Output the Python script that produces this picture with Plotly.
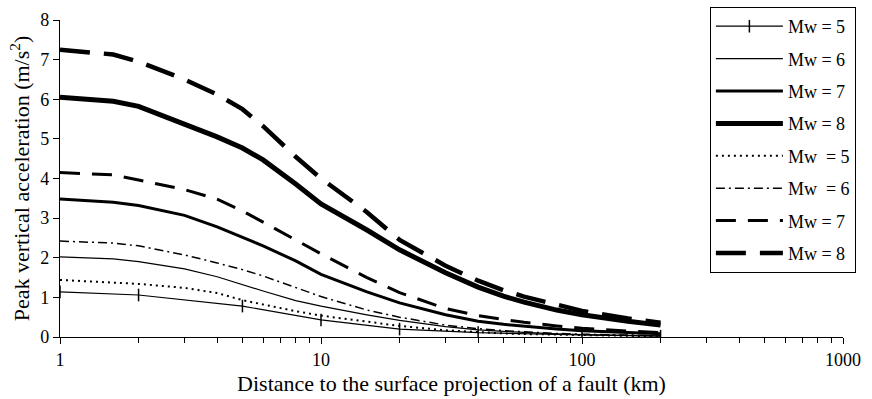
import plotly.graph_objects as go

# Distance to the surface projection of the fault (km)
distance = [1, 1.6, 2, 3, 4, 5, 6, 8, 10, 15, 20, 30, 40, 50, 60, 80, 100, 150, 200]
distance_mw5 = [1, 2, 5, 10, 20, 40, 100, 200]

# Peak vertical acceleration (m/s^2), first model (solid lines)
pva_a_mw5 = [1.14, 1.06, 0.78, 0.43, 0.20, 0.11, 0.05, 0.02]
pva_a_mw6 = [2.02, 1.97, 1.90, 1.72, 1.52, 1.32, 1.16, 0.92, 0.78, 0.56, 0.42, 0.26, 0.18, 0.14, 0.11, 0.08, 0.06, 0.04, 0.03]
pva_a_mw7 = [3.48, 3.40, 3.32, 3.07, 2.78, 2.52, 2.30, 1.92, 1.58, 1.14, 0.86, 0.56, 0.40, 0.32, 0.27, 0.20, 0.16, 0.11, 0.08]
pva_a_mw8 = [6.05, 5.95, 5.82, 5.38, 5.05, 4.77, 4.47, 3.86, 3.36, 2.70, 2.20, 1.62, 1.26, 1.03, 0.88, 0.68, 0.56, 0.40, 0.30]

# Peak vertical acceleration (m/s^2), second model (dotted / dashed lines)
pva_b_mw5 = [1.44, 1.36, 1.34, 1.24, 1.11, 0.93, 0.82, 0.65, 0.54, 0.38, 0.28, 0.17, 0.12, 0.09, 0.075, 0.055, 0.04, 0.03, 0.02]
pva_b_mw6 = [2.42, 2.37, 2.30, 2.07, 1.87, 1.70, 1.54, 1.24, 1.02, 0.68, 0.50, 0.30, 0.21, 0.16, 0.13, 0.09, 0.07, 0.05, 0.035]
pva_b_mw7 = [4.15, 4.09, 3.96, 3.72, 3.48, 3.18, 2.90, 2.45, 2.10, 1.50, 1.12, 0.72, 0.54, 0.44, 0.37, 0.28, 0.22, 0.15, 0.11]
pva_b_mw8 = [7.25, 7.13, 6.95, 6.50, 6.12, 5.75, 5.32, 4.55, 4.00, 3.15, 2.45, 1.80, 1.42, 1.18, 1.02, 0.82, 0.66, 0.47, 0.36]

labels = ["Mw = 5", "Mw = 6", "Mw = 7", "Mw = 8",
          "Mw\u00a0 = 5", "Mw\u00a0 = 6", "Mw = 7", "Mw = 8"]

FONT = "Liberation Serif, Times New Roman, serif"

fig = go.Figure()

series = [
    (distance_mw5, pva_a_mw5, dict(width=1.2, dash="solid")),
    (distance, pva_a_mw6, dict(width=1.2, dash="solid")),
    (distance, pva_a_mw7, dict(width=3, dash="solid")),
    (distance, pva_a_mw8, dict(width=5, dash="solid")),
    (distance, pva_b_mw5, dict(width=2, dash="2px,4px")),
    (distance, pva_b_mw6, dict(width=1.5, dash="9px,4px,2px,4px")),
    (distance, pva_b_mw7, dict(width=3, dash="20px,12px")),
    (distance, pva_b_mw8, dict(width=4.5, dash="30px,14px")),
]

for i, (xs, ys, line) in enumerate(series):
    if i == 0:
        kw = dict(mode="lines+markers",
                  marker=dict(symbol="line-ns-open", size=9, color="black",
                              line=dict(width=1.5, color="black")))
    else:
        kw = dict(mode="lines")
    fig.add_trace(go.Scatter(
        x=xs, y=ys, name=labels[i], legendgroup=f"g{i}",
        line=dict(color="black", **line), **kw))

fig.update_layout(
    width=872, height=399,
    margin=dict(l=60, r=29, t=20, b=62, autoexpand=False),
    paper_bgcolor="white", plot_bgcolor="white",
    font=dict(family=FONT, size=18, color="black"),
    showlegend=True,
    legend=dict(x=0.83, y=1.041, xanchor="left", yanchor="top",
                bgcolor="white", bordercolor="black", borderwidth=1,
                font=dict(family=FONT, size=18), itemwidth=67,
                tracegroupgap=6, maxheight=1.0),
    xaxis=dict(type="log", range=[0, 3], showgrid=False, zeroline=False,
               showline=True, linecolor="black", linewidth=1.2,
               ticks="outside", ticklen=6, tickcolor="black",
               tickvals=[1, 10, 100, 1000], ticktext=["1", "10", "100", "1000"],
               minor=dict(ticks="outside", ticklen=5, tickcolor="black",
                          tickvals=[2, 3, 4, 5, 6, 7, 8, 9, 20, 30, 40, 50, 60, 70, 80, 90,
                                    200, 300, 400, 500, 600, 700, 800, 900]),
               title=dict(text="Distance to the surface projection of a fault (km)",
                          standoff=6)),
    yaxis=dict(range=[0, 8], dtick=1, showgrid=False, zeroline=False,
               showline=True, linecolor="black", linewidth=1.2,
               ticks="outside", ticklen=6, tickcolor="black",
               title=dict(text="Peak vertical acceleration (m/s<sup>2</sup>)", standoff=4)),
)

fig.write_html("out.html")
